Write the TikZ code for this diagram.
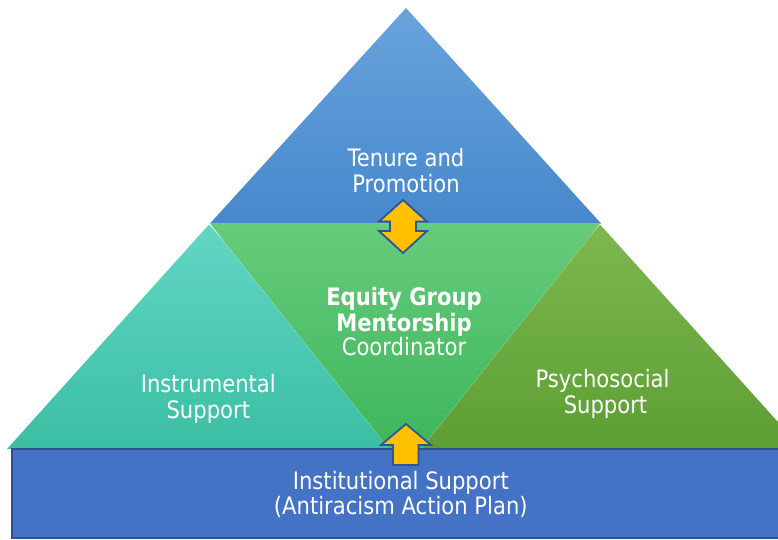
\documentclass[tikz,border=0pt]{standalone}
\usepackage{fontspec}
\setmainfont{DejaVu Sans}[FakeStretch=0.88]
\definecolor{tipTop}{HTML}{68A3DC}
\definecolor{tipBot}{HTML}{4788CC}
\definecolor{tealTop}{HTML}{62D6C4}
\definecolor{tealBot}{HTML}{3BBEA4}
\definecolor{oliveTop}{HTML}{7DB84F}
\definecolor{oliveBot}{HTML}{5C9E33}
\definecolor{midTop}{HTML}{66CB7B}
\definecolor{midBot}{HTML}{3AB45A}
\definecolor{barFill}{HTML}{4472C4}
\definecolor{barLine}{HTML}{2F528F}
\definecolor{arrowFill}{HTML}{FFC000}
\definecolor{arrowLine}{HTML}{2F5597}
\begin{document}
\begin{tikzpicture}[x=1pt,y=-1pt,
  lbl/.style={text=white,font=\fontsize{24}{26}\selectfont,inner sep=0pt,anchor=base},
  boldlbl/.style={lbl,font=\fontsize{24}{26}\selectfont\bfseries},
  blockarrow/.style={fill=arrowFill,draw=arrowLine,line width=1.8pt,line join=miter},
  bevel/.style={draw=white,draw opacity=0.2,line width=0.8pt}]
\useasboundingbox (0,0) rectangle (778,540);
\clip (0,0) rectangle (778,540);

% pyramid tiers
\shade[top color=tipTop,bottom color=tipBot] (406,8) -- (601,223.5) -- (210,223.5) -- cycle;
\shade[top color=tealTop,bottom color=tealBot] (209,224.5) -- (412,449) -- (7,449) -- cycle;
\shade[top color=oliveTop,bottom color=oliveBot] (600,224.5) -- (805,452) -- (395,452) -- cycle;
\shade[top color=midTop,bottom color=midBot] (210,223.5) -- (600,223.5) -- (405,469) -- cycle;
\draw[bevel] (210,224) -- (405,469) -- (600,224);

% two-way link between the top tier and the centre
\filldraw[blockarrow] (403,200) -- (427,221.5) -- (416,221.5) -- (416,231) -- (427,231)
  -- (403,253) -- (379,231) -- (390,231) -- (390,221.5) -- (379,221.5) -- cycle;

% foundation bar
\filldraw[fill=barFill,draw=barLine,line width=1.5pt] (12,449) rectangle (800,538);

% upward link from the foundation
\filldraw[blockarrow] (406,424) -- (431,445) -- (418.5,445) -- (418.5,465) -- (393,465)
  -- (393,445) -- (381,445) -- cycle;

% labels
\node[lbl] (tenureA) at (406,166.5) {Tenure and};
\node[lbl] (tenureB) at (406,192) {Promotion};
\node[boldlbl] (equityA) at (404,305.5) {Equity Group};
\node[boldlbl] (equityB) at (404,331.5) {Mentorship};
\node[lbl] (equityC) at (404,355) {Coordinator};
\node[lbl] (instrA) at (208.3,392.5) {Instrumental};
\node[lbl] (instrB) at (208.3,418.3) {Support};
\node[lbl] (psychA) at (602.5,387.7) {Psychosocial};
\node[lbl] (psychB) at (605.5,413.3) {Support};
\node[lbl] (instA) at (400.8,489.3) {Institutional Support};
\node[lbl] (instB) at (400.8,514.3) {(Antiracism Action Plan)};
\end{tikzpicture}
\end{document}
